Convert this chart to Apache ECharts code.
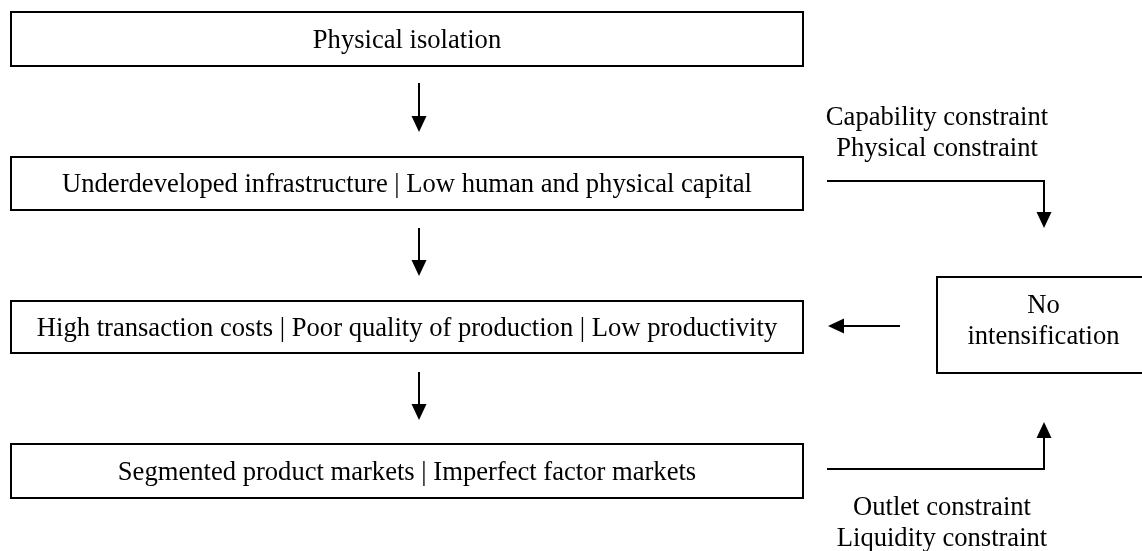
<!DOCTYPE html>
<html>
<head>
<meta charset="utf-8">
<script src="https://cdn.jsdelivr.net/npm/echarts@6/dist/echarts.min.js"></script>
<style>
html, body { margin: 0; padding: 0; background: #fff; }
#chart { width: 1142px; height: 551px; }
</style>
</head>
<body>
<div id="chart"></div>
<script>
// boxes of the flow (layout in diagram units, y grows downward)
var boxLabels = [
	'Physical isolation',
	'Underdeveloped infrastructure | Low human and physical capital',
	'High transaction costs | Poor quality of production | Low productivity',
	'Segmented product markets | Imperfect factor markets',
	'No\nintensification'
];
var boxLeft = [11, 11, 11, 11, 937];
var boxRight = [803, 803, 803, 803, 1150];
var boxTop = [12, 157, 301, 444, 277];
var boxBottom = [66, 210, 353, 498, 373];

// arrows: polylines, the head sits on the last point
var arrowPaths = [
	[[419, 83], [419, 132]],
	[[419, 228], [419, 276]],
	[[419, 372], [419, 420]],
	[[900, 326], [828, 326]],
	[[827, 181], [1044, 181], [1044, 228]],
	[[827, 469], [1044, 469], [1044, 422]]
];

// side notes
var noteLabels = ['Capability constraint\nPhysical constraint', 'Outlet constraint\nLiquidity constraint'];
var noteX = [937, 942];
var noteY = [134, 524];

var font = '26.6px "Liberation Serif", "Times New Roman", serif';

var boxData = boxLabels.map(function (t, i) {
	return [boxLeft[i], boxTop[i], boxRight[i], boxBottom[i]];
});
var arrowData = arrowPaths.map(function (p) {
	return [p[0][0], p[0][1]];
});
var noteData = noteLabels.map(function (t, i) {
	return [noteX[i], noteY[i]];
});

var chart = echarts.init(document.getElementById('chart'));
var option = {
	animation: false,
	backgroundColor: '#fff',
	grid: { left: 0, right: 0, top: 0, bottom: 0 },
	xAxis: { type: 'value', min: 0, max: 1142, show: false },
	yAxis: { type: 'value', min: 0, max: 551, inverse: true, show: false },
	series: [
		{
			type: 'custom',
			clip: false,
			data: boxData,
			renderItem: function (params, api) {
				var p0 = api.coord([api.value(0), api.value(1)]);
				var p1 = api.coord([api.value(2), api.value(3)]);
				var x = Math.min(p0[0], p1[0]), y = Math.min(p0[1], p1[1]);
				var w = Math.abs(p1[0] - p0[0]), h = Math.abs(p1[1] - p0[1]);
				return {
					type: 'group',
					children: [
						{
							type: 'rect',
							shape: { x: x, y: y, width: w, height: h },
							style: { fill: '#fff', stroke: '#000', lineWidth: 2 }
						},
						{
							type: 'text',
							style: {
								text: boxLabels[params.dataIndex],
								x: x + w / 2,
								y: y + h / 2 + (params.dataIndex === 4 ? -3 : 2),
								align: 'center',
								verticalAlign: 'middle',
								font: font,
								lineHeight: 31,
								fill: '#000'
							}
						}
					]
				};
			}
		},
		{
			type: 'custom',
			clip: false,
			data: arrowData,
			renderItem: function (params, api) {
				var path = arrowPaths[params.dataIndex];
				var pts = path.map(function (p) { return api.coord(p); });
				var tip = pts[pts.length - 1], prev = pts[pts.length - 2];
				var dx = tip[0] - prev[0], dy = tip[1] - prev[1];
				var len = Math.sqrt(dx * dx + dy * dy);
				dx /= len; dy /= len;
				var headL = 16, headW = 7.5;
				var base = [tip[0] - dx * headL, tip[1] - dy * headL];
				var linePts = pts.slice(0, -1).concat([base]);
				return {
					type: 'group',
					children: [
						{
							type: 'polyline',
							shape: { points: linePts },
							style: { stroke: '#000', lineWidth: 2, fill: null }
						},
						{
							type: 'polygon',
							shape: {
								points: [
									tip,
									[base[0] - dy * headW, base[1] + dx * headW],
									[base[0] + dy * headW, base[1] - dx * headW]
								]
							},
							style: { fill: '#000' }
						}
					]
				};
			}
		},
		{
			type: 'custom',
			clip: false,
			data: noteData,
			renderItem: function (params, api) {
				var p = api.coord([api.value(0), api.value(1)]);
				return {
					type: 'text',
					style: {
						text: noteLabels[params.dataIndex],
						x: p[0],
						y: p[1],
						align: 'center',
						verticalAlign: 'middle',
						font: font,
						lineHeight: 31,
						fill: '#000'
					}
				};
			}
		}
	]
};
chart.setOption(option);
</script>
</body>
</html>
